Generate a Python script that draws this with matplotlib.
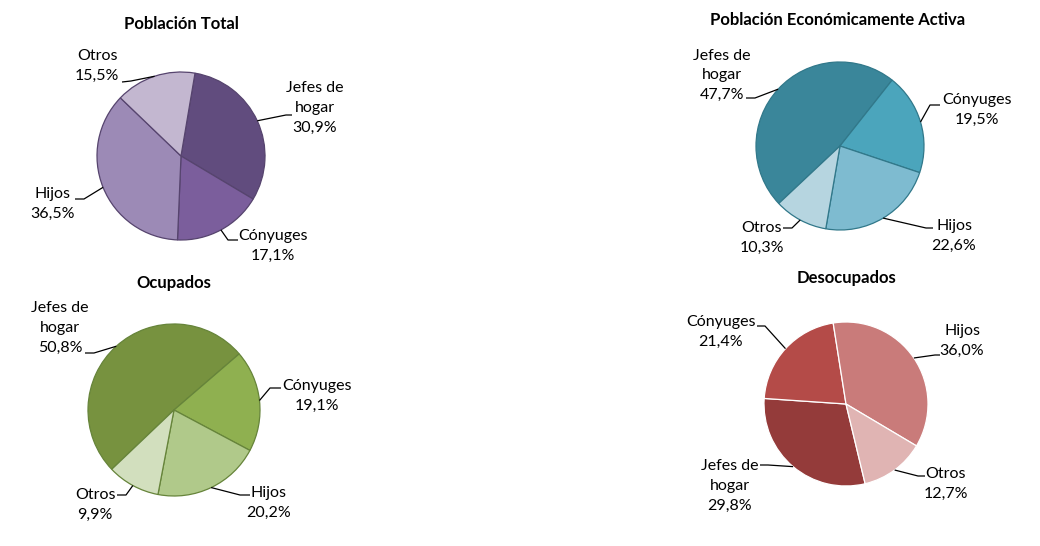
import numpy as np
import matplotlib
matplotlib.use('Agg')
import matplotlib.pyplot as plt

plt.rcParams['font.family'] = ['Lato', 'DejaVu Sans']

# datos (%)
categorias = ['Jefes de\nhogar', 'Cónyuges', 'Hijos', 'Otros']
titulos = ['Población Total', 'Población Económicamente Activa', 'Ocupados', 'Desocupados']
pob_total = [30.9, 17.1, 36.5, 15.5]
pea = [47.7, 19.5, 22.6, 10.3]
ocupados = [50.8, 19.1, 20.2, 9.9]
desocupados = [29.8, 21.4, 36.0, 12.7]
series = [pob_total, pea, ocupados, desocupados]

# estilos
colores = [
    ['#614C7E', '#7B5E9C', '#9C8AB6', '#C3B7D0'],
    ['#3A869A', '#4BA5BC', '#7EBBD0', '#B6D5E0'],
    ['#77923F', '#8FB050', '#B0C98A', '#D2DFBE'],
    ['#943B3A', '#B44B48', '#C97B7A', '#E0B4B3'],
]
bordes = ['#56446E', '#31788A', '#66843A', 'white']

W, H = 1040, 546
fig = plt.figure(figsize=(W / 100, H / 100), dpi=100)
ax = fig.add_axes([0, 0, 1, 1])

def fy(y):
    return H - y

# layout en pixeles de la imagen (y hacia abajo)
centros = [(181, 156), (840, 146), (174, 410), (846, 404)]
radios = [84, 84, 86, 82]
inicio = [80.4, 223.2, 223.6, 283.5]
pos_titulo = [(181, 24), (838, 20), (174, 283), (847, 278)]
# por categoria: centro del texto, inicio y codo de la linea guia
pos_etiqueta = [
    [[(315, 108), (292, 115), (286, 115)],
     [(273, 246), (238, 240), (228, 240)],
     [(53, 204), (75, 199), (84, 199)],
     [(97, 66), (122, 82), (131, 81)]],
    [[(722, 75), (746, 98), (755, 98)],
     [(977, 110), (940, 105), (930, 105)],
     [(954, 236), (933, 228), (926, 228)],
     [(762, 238), (783, 228), (792, 228)]],
    [[(60, 328), (85, 353), (94, 353)],
     [(317, 396), (281, 388), (270, 388)],
     [(269, 503), (250, 495), (240, 495)],
     [(95, 505), (117, 495), (126, 495)]],
    [[(730, 486), (760, 465), (768, 465)],
     [(721, 332), (757, 326), (765, 326)],
     [(962, 341), (940, 355), (935, 355)],
     [(946, 484), (925, 476), (918, 476)]],
]

for i, vals in enumerate(series):
    cx, cy = centros[i]
    r = radios[i]
    wedges, _ = ax.pie(vals, colors=colores[i], startangle=inicio[i], counterclock=False,
                       center=(cx, fy(cy)), radius=r,
                       wedgeprops=dict(edgecolor=bordes[i], linewidth=0.9))
    ax.text(pos_titulo[i][0], fy(pos_titulo[i][1]), titulos[i], ha='center', va='center',
            fontsize=12, fontweight='bold', color='black')
    for j, w in enumerate(wedges):
        ang = np.deg2rad((w.theta1 + w.theta2) / 2)
        ex = cx + r * np.cos(ang)
        ey = fy(cy) + r * np.sin(ang)
        (tx, ty), (ax1, ay1), (ax2, ay2) = pos_etiqueta[i][j]
        etiqueta = categorias[j] + '\n' + ('%.1f%%' % vals[j]).replace('.', ',')
        ax.text(tx, fy(ty), etiqueta, ha='center', va='center', fontsize=11.5,
                linespacing=1.5, color='black')
        ax.plot([ax1, ax2, ex], [fy(ay1), fy(ay2), ey], color='black', lw=0.9,
                solid_capstyle='butt')

ax.set_xlim(0, W)
ax.set_ylim(0, H)
ax.set_aspect('auto')
ax.axis('off')

fig.savefig('out.png', dpi=100)
